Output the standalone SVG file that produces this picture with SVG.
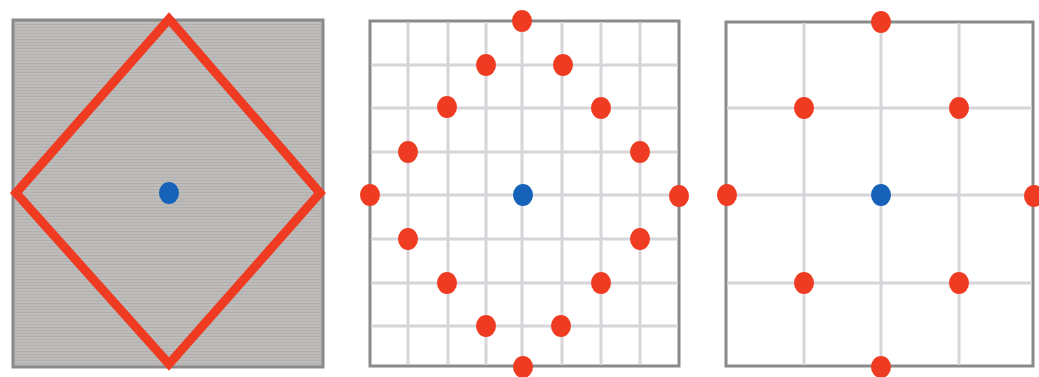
<svg xmlns="http://www.w3.org/2000/svg" width="1039" height="377" viewBox="0 0 1039 377">
<defs>
<pattern id="scan" width="4" height="3" patternUnits="userSpaceOnUse">
<rect width="4" height="3" fill="#bebcba"/>
<rect y="0" width="4" height="1" fill="#b2b0ae"/>
</pattern>
<style>
.frame{stroke:#8a8a8a;stroke-width:3;}
.grid{stroke:#d6d6da;stroke-width:3;}
.red{fill:#ef3b22;}
.blue{fill:#1662b8;}
</style>
</defs>
<rect width="1039" height="377" fill="#ffffff"/>
<g id="panel1">
<rect x="13" y="20" width="310" height="347" fill="url(#scan)" class="frame"/>
<polygon points="169,19 320,193 169,364 16,193" fill="none" stroke="#ef3b22" stroke-width="9" stroke-linejoin="miter"/>
<ellipse cx="169" cy="193" rx="10" ry="11" class="blue"/>
</g>
<g id="panel2">
<rect x="370" y="21" width="309" height="345" fill="#ffffff" class="frame"/>
<g class="grid">
<line x1="408" y1="22" x2="408" y2="365"/>
<line x1="448" y1="22" x2="448" y2="365"/>
<line x1="486" y1="22" x2="486" y2="365"/>
<line x1="522" y1="22" x2="522" y2="365"/>
<line x1="562" y1="22" x2="562" y2="365"/>
<line x1="601" y1="22" x2="601" y2="365"/>
<line x1="640" y1="22" x2="640" y2="365"/>
<line x1="371" y1="65" x2="678" y2="65"/>
<line x1="371" y1="108" x2="678" y2="108"/>
<line x1="371" y1="152" x2="678" y2="152"/>
<line x1="371" y1="195" x2="678" y2="195"/>
<line x1="371" y1="239" x2="678" y2="239"/>
<line x1="371" y1="283" x2="678" y2="283"/>
<line x1="371" y1="326" x2="678" y2="326"/>
</g>
<g class="red">
<ellipse cx="522" cy="21" rx="10" ry="11"/>
<ellipse cx="486" cy="65" rx="10" ry="11"/>
<ellipse cx="563" cy="65" rx="10" ry="11"/>
<ellipse cx="447" cy="107" rx="10" ry="11"/>
<ellipse cx="601" cy="108" rx="10" ry="11"/>
<ellipse cx="408" cy="152" rx="10" ry="11"/>
<ellipse cx="640" cy="152" rx="10" ry="11"/>
<ellipse cx="370" cy="195" rx="10" ry="11"/>
<ellipse cx="679" cy="196" rx="10" ry="11"/>
<ellipse cx="408" cy="239" rx="10" ry="11"/>
<ellipse cx="640" cy="239" rx="10" ry="11"/>
<ellipse cx="447" cy="283" rx="10" ry="11"/>
<ellipse cx="601" cy="283" rx="10" ry="11"/>
<ellipse cx="486" cy="326" rx="10" ry="11"/>
<ellipse cx="561" cy="326" rx="10" ry="11"/>
<ellipse cx="523" cy="367" rx="10" ry="11"/>
</g>
<ellipse cx="523" cy="195" rx="10" ry="11" class="blue"/>
</g>
<g id="panel3">
<rect x="726" y="22" width="307" height="344" fill="#ffffff" class="frame"/>
<g class="grid">
<line x1="804" y1="23" x2="804" y2="365"/>
<line x1="881" y1="23" x2="881" y2="365"/>
<line x1="959" y1="23" x2="959" y2="365"/>
<line x1="727" y1="108" x2="1032" y2="108"/>
<line x1="727" y1="195" x2="1032" y2="195"/>
<line x1="727" y1="283" x2="1032" y2="283"/>
</g>
<g class="red">
<ellipse cx="881" cy="22" rx="10" ry="11"/>
<ellipse cx="804" cy="108" rx="10" ry="11"/>
<ellipse cx="959" cy="108" rx="10" ry="11"/>
<ellipse cx="727" cy="195" rx="10" ry="11"/>
<ellipse cx="1034" cy="196" rx="10" ry="11"/>
<ellipse cx="804" cy="283" rx="10" ry="11"/>
<ellipse cx="959" cy="283" rx="10" ry="11"/>
<ellipse cx="881" cy="367" rx="10" ry="11"/>
</g>
<ellipse cx="881" cy="195" rx="10" ry="11" class="blue"/>
</g>
</svg>
